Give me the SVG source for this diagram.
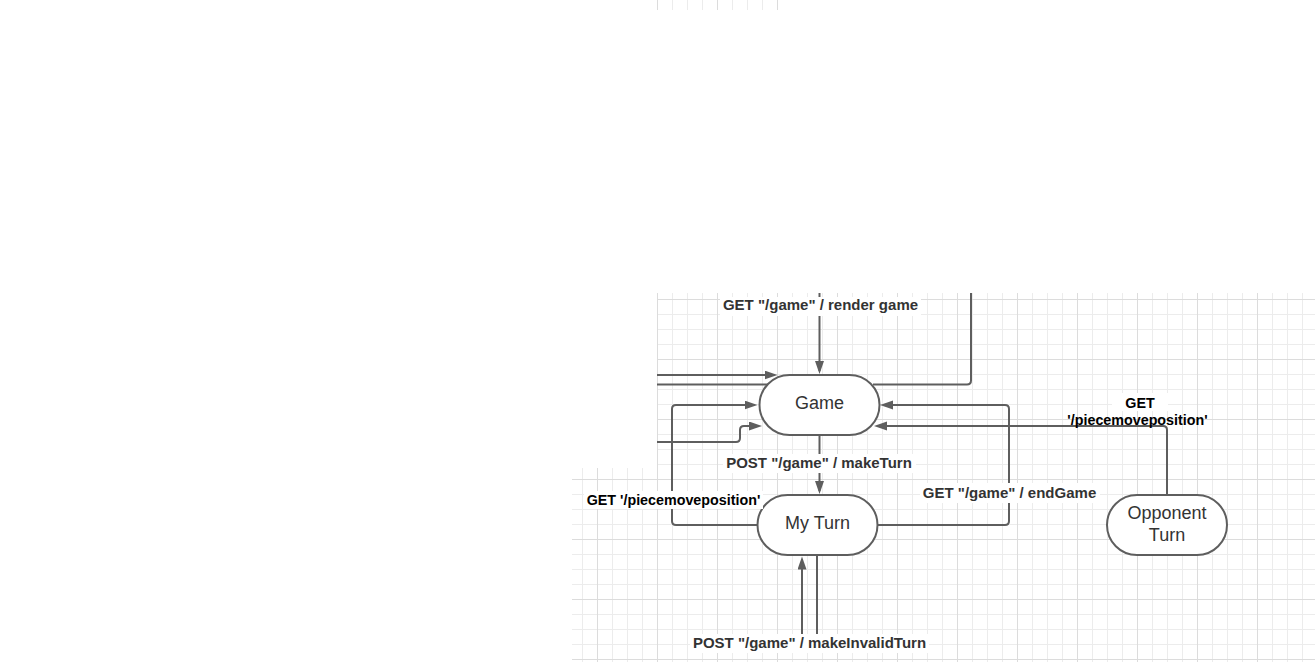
<svg xmlns="http://www.w3.org/2000/svg" width="1315" height="662" viewBox="0 0 1315 662">
<style>
.node{fill:#ffffff;stroke:#5e5e5e;stroke-width:2}
.ntext{font-family:"Liberation Sans",Arial,sans-serif;font-size:18px;fill:#333333;text-anchor:middle}
.conn{fill:none;stroke:#5e5e5e;stroke-width:2}
.arr{marker-end:url(#arrow)}
.lbl{font-family:"Liberation Sans",Arial,sans-serif;font-size:15px;font-weight:bold;fill:#333333;text-anchor:middle}
.lblk{font-family:"Liberation Sans",Arial,sans-serif;font-size:14.3px;font-weight:bold;fill:#000000;text-anchor:middle}
.bg{fill:#ffffff}
</style>
<defs>
<pattern id="grid" patternUnits="userSpaceOnUse" x="657" y="299" width="60" height="60">
<path d="M15.5 0V60M30.5 0V60M45.5 0V60M0 15.5H60M0 30.5H60M0 45.5H60" stroke="#ececec" stroke-width="1" fill="none"/>
<path d="M0.5 0V60M0 0.5H60" stroke="#dcdcdc" stroke-width="1" fill="none"/>
</pattern>
<marker id="arrow" markerUnits="userSpaceOnUse" markerWidth="14" markerHeight="10" refX="10" refY="4.5" orient="auto">
<path d="M0 0L13 4.5L0 9Z" fill="#5e5e5e"/>
</marker>
</defs>
<rect width="1315" height="662" fill="#ffffff"/>
<g id="grid-bg">
<rect x="657" y="293" width="658" height="369" fill="url(#grid)"/>
<rect x="572" y="468" width="85" height="194" fill="url(#grid)"/>
<rect x="657" y="0" width="122" height="10" fill="url(#grid)"/>
</g>
<g id="connectors">
<path class="conn arr" d="M819.5 293V371"/>
<path class="conn" d="M873 384.5H967Q971 384.5 971 380.5V293"/>
<path class="conn arr" d="M657 375H774.5"/>
<path class="conn" d="M657 384.5H772"/>
<path class="conn arr" d="M657 442H736Q740 442 740 438V430Q740 426 744 426H759"/>
<path class="conn arr" d="M757 525H676Q672 525 672 521V409Q672 405 676 405H754.5"/>
<path class="conn arr" d="M819.5 435V491"/>
<path class="conn arr" d="M877 525H1005Q1009 525 1009 521V409Q1009 405 1005 405H883"/>
<path class="conn arr" d="M1167 495V430Q1167 426 1163 426H877"/>
<path class="conn arr" d="M802 636V559.5"/>
<path class="conn" d="M817 556V636"/>
</g>
<g id="node-game">
<rect class="node" x="759.5" y="375" width="120" height="60" rx="30" ry="30"/>
<text class="ntext" x="819.5" y="409">Game</text>
</g>
<g id="node-myturn">
<rect class="node" x="757.5" y="495" width="120" height="60" rx="30" ry="30"/>
<text class="ntext" x="817.5" y="529">My Turn</text>
</g>
<g id="node-opponent">
<rect class="node" x="1107" y="495" width="120" height="60" rx="30" ry="30"/>
<text class="ntext" x="1167" y="518.5">Opponent</text>
<text class="ntext" x="1167" y="540.5">Turn</text>
</g>
<g id="labels">
<rect class="bg" x="720" y="297" width="201" height="19"/>
<text class="lbl" x="820.5" y="310">GET "/game" / render game</text>
<rect class="bg" x="723" y="454" width="193" height="19"/>
<text class="lbl" x="819" y="468">POST "/game" / makeTurn</text>
<rect class="bg" x="584" y="491" width="179" height="18"/>
<text class="lblk" x="673.5" y="504.5">GET '/piecemoveposition'</text>
<rect class="bg" x="920" y="483" width="180" height="20"/>
<text class="lbl" x="1009.5" y="498">GET "/game" / endGame</text>
<rect class="bg" x="1112" y="393" width="56" height="18"/>
<text class="lblk" x="1140" y="407.5">GET</text>
<text class="lblk" x="1137.5" y="425">'/piecemoveposition'</text>
<rect class="bg" x="690" y="634" width="239" height="19"/>
<text class="lbl" x="809.5" y="648">POST "/game" / makeInvalidTurn</text>
</g>
</svg>
